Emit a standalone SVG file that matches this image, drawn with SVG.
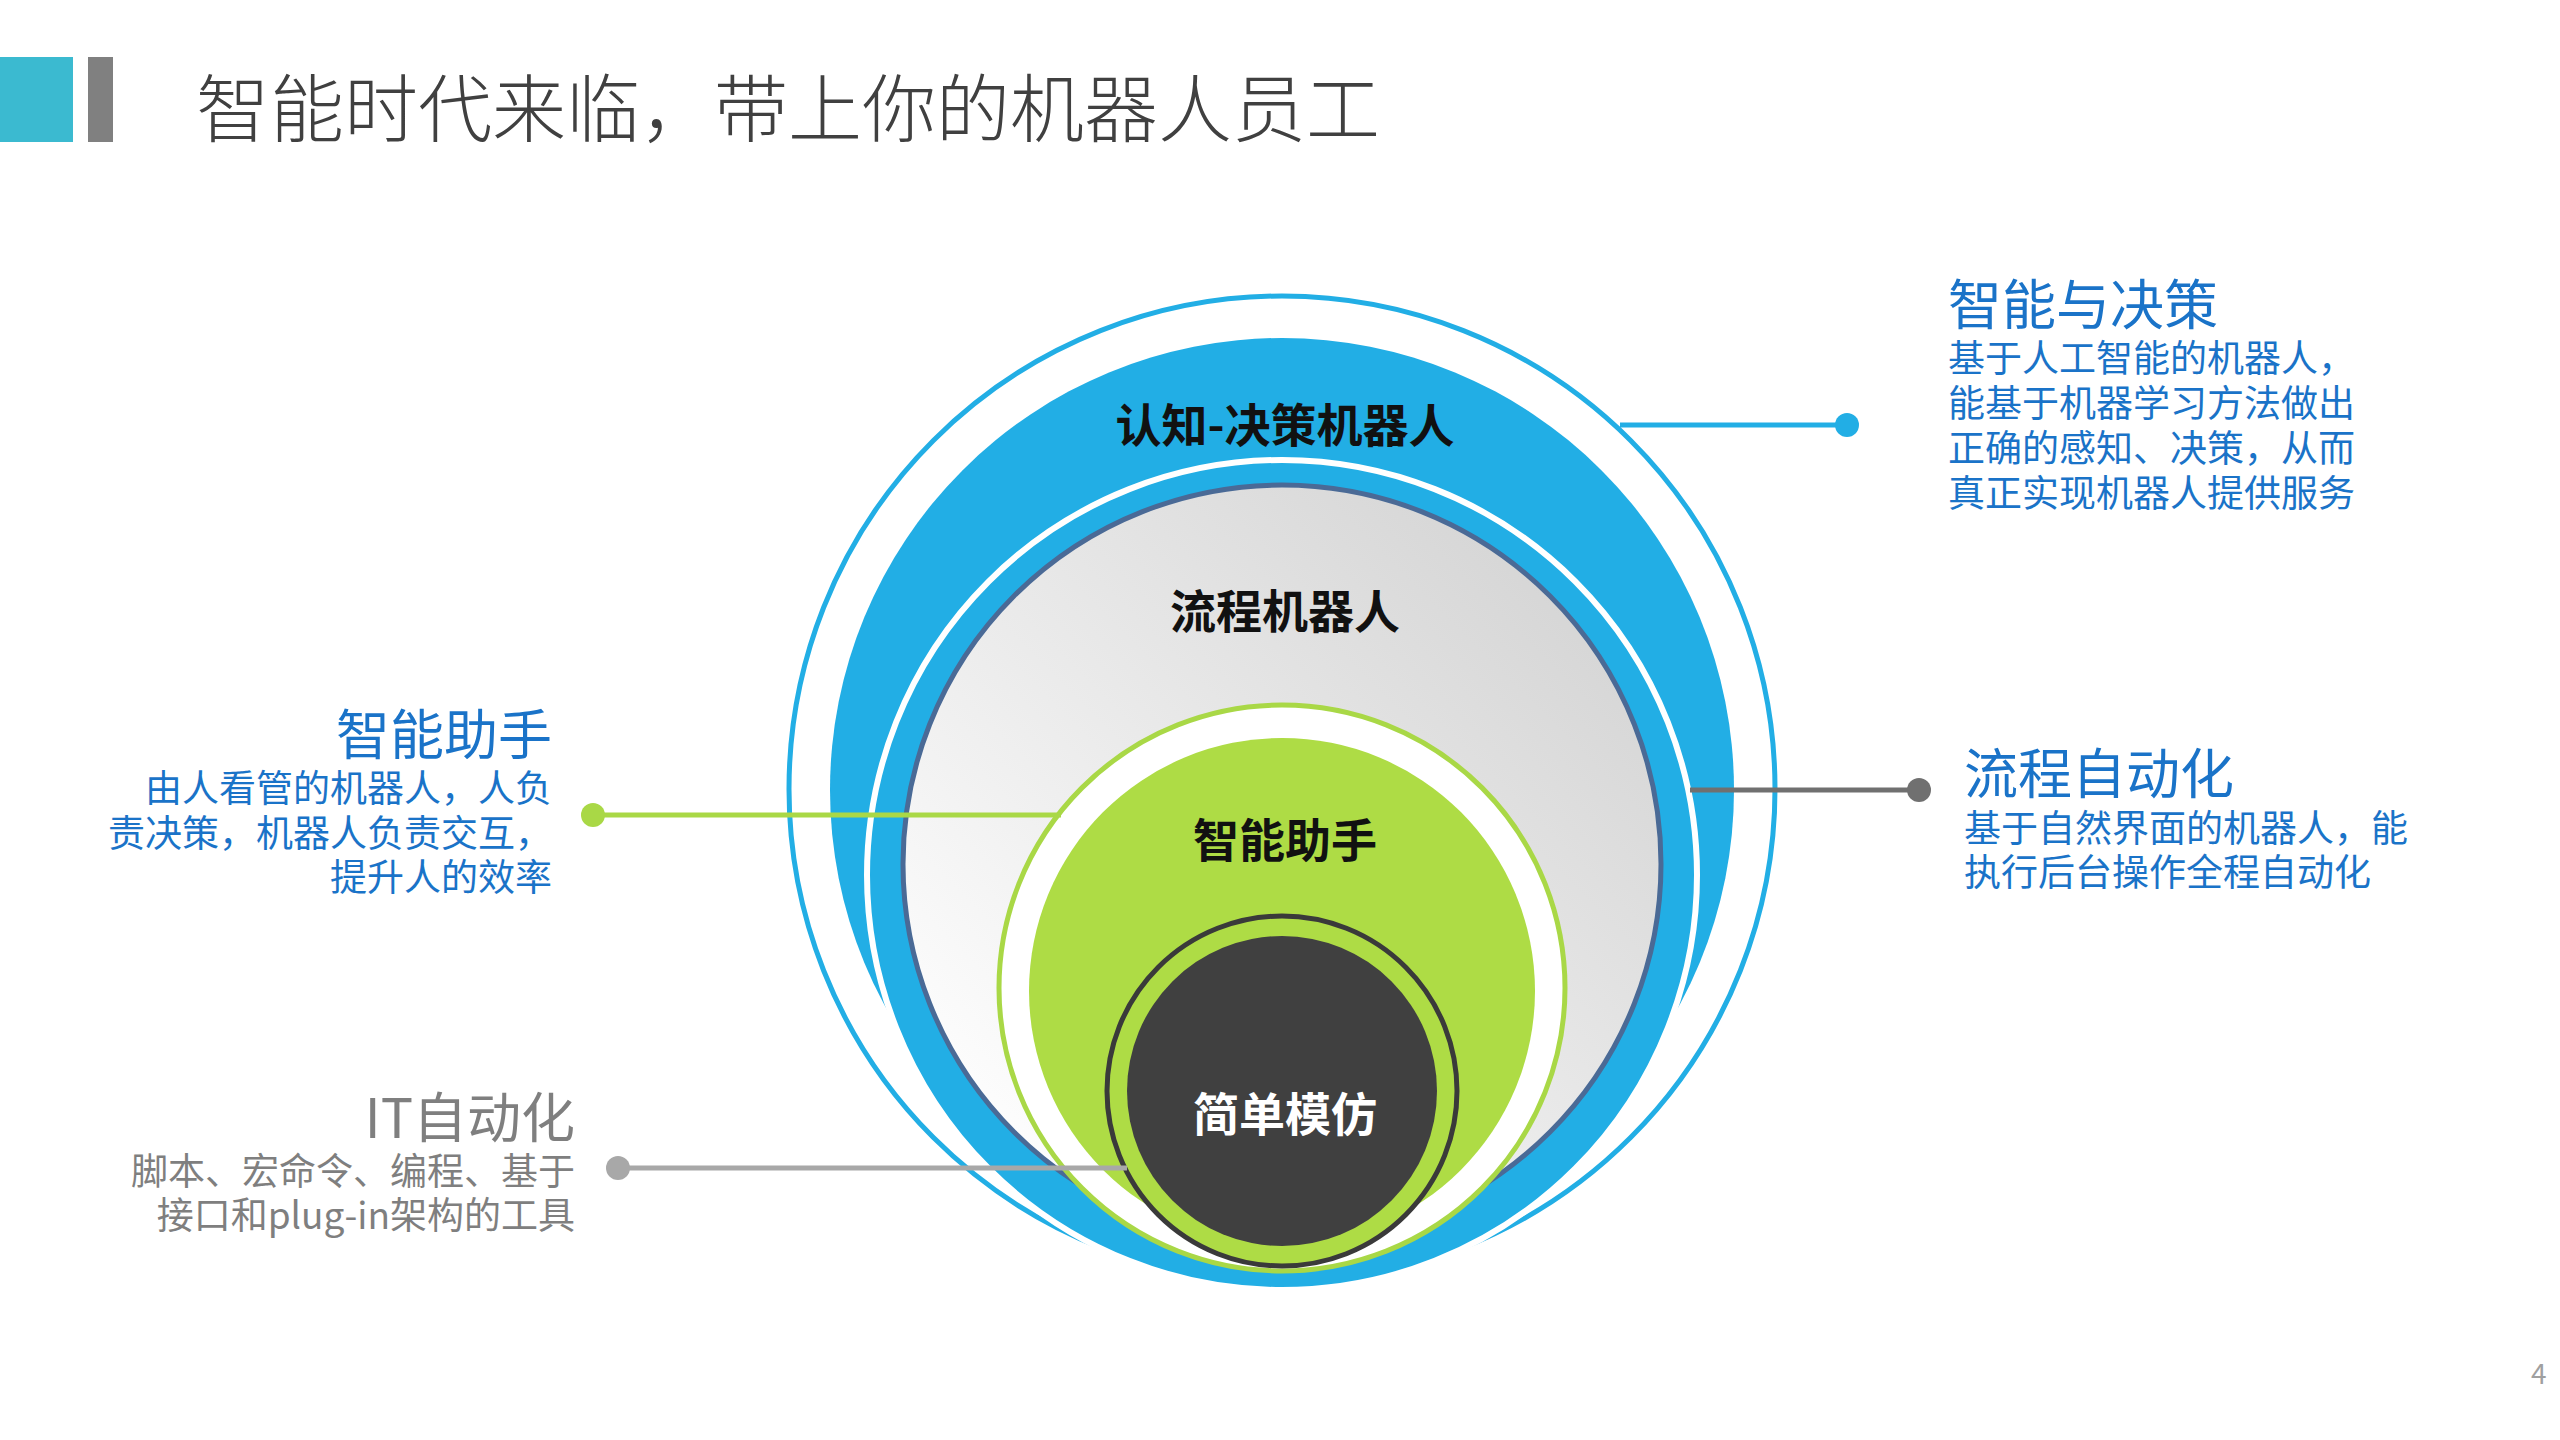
<svg xmlns="http://www.w3.org/2000/svg" width="2560" height="1440" viewBox="0 0 2560 1440">
<style>
text{font-family:"Noto Sans CJK SC","Noto Sans",sans-serif}
.h{font-size:46px;font-weight:700;text-anchor:middle;fill:#111}
.bt{fill:#1a73c8;font-size:54px}
.b{fill:#1a73c8;font-size:37px}
.gt{fill:#7f7f7f;font-size:54px}
.g{fill:#7f7f7f;font-size:37px}
.r{text-anchor:end}
</style>
<defs>
<linearGradient id="gg" x1="0.1" y1="0.9" x2="0.9" y2="0.1">
<stop offset="0" stop-color="#ffffff"/><stop offset="1" stop-color="#d4d4d4"/>
</linearGradient>
</defs>
<rect width="2560" height="1440" fill="#fff"/>
<rect x="0" y="57" width="73" height="85" fill="#3bbad0"/>
<rect x="88" y="57" width="25" height="85" fill="#808080"/>
<text x="196" y="136" font-size="74" fill="#404040" font-weight="300">智能时代来临，带上你的机器人员工</text>

<g id="cognitive">
<circle cx="1282" cy="789" r="493" fill="none" stroke="#22aee5" stroke-width="5"/>
<circle cx="1282" cy="790" r="452" fill="#22aee5"/>
<text class="h" x="1285" y="442">认知-决策机器人</text>
</g>
<g id="process">
<circle cx="1282" cy="875" r="415" fill="#22aee5" stroke="#fff" stroke-width="6"/>
<circle cx="1282" cy="864" r="379" fill="url(#gg)" stroke="#4a6a96" stroke-width="5"/>
<text class="h" x="1285" y="628">流程机器人</text>
</g>
<g id="assistant">
<circle cx="1282" cy="988" r="283" fill="#fff" stroke="#a9d846" stroke-width="5"/>
<circle cx="1282" cy="991" r="253" fill="#aedc45"/>
<text class="h" x="1285" y="857">智能助手</text>
</g>
<g id="imitation">
<circle cx="1282" cy="1091" r="175" fill="#aedc45" stroke="#3a3a3a" stroke-width="5"/>
<circle cx="1282" cy="1091" r="155" fill="#404040"/>
<text class="h" x="1285" y="1131" style="fill:#fff">简单模仿</text>
</g>

<g id="connectors">
<line x1="1620" y1="425" x2="1847" y2="425" stroke="#22aee5" stroke-width="5"/>
<circle cx="1847" cy="425" r="12" fill="#22aee5"/>
<line x1="1690" y1="790" x2="1919" y2="790" stroke="#707070" stroke-width="5"/>
<circle cx="1919" cy="790" r="12" fill="#707070"/>
<line x1="591" y1="815" x2="1061" y2="815" stroke="#a9d846" stroke-width="5"/>
<circle cx="593" cy="815" r="12" fill="#a9d846"/>
<line x1="616" y1="1168" x2="1127" y2="1168" stroke="#a8a8a8" stroke-width="5"/>
<circle cx="618" cy="1168" r="12" fill="#a8a8a8"/>
</g>

<g id="label-decision">
<text class="bt" x="1948" y="325">智能与决策</text>
<text class="b" x="1948" y="372">基于人工智能的机器人，</text>
<text class="b" x="1948" y="417">能基于机器学习方法做出</text>
<text class="b" x="1948" y="462">正确的感知、决策，从而</text>
<text class="b" x="1948" y="507">真正实现机器人提供服务</text>
</g>
<g id="label-process">
<text class="bt" x="1964" y="794">流程自动化</text>
<text class="b" x="1964" y="842">基于自然界面的机器人，能</text>
<text class="b" x="1964" y="886">执行后台操作全程自动化</text>
</g>
<g id="label-assistant">
<text class="bt r" x="552" y="755">智能助手</text>
<text class="b r" x="552" y="802">由人看管的机器人，人负</text>
<text class="b r" x="552" y="847">责决策，机器人负责交互，</text>
<text class="b r" x="552" y="891">提升人的效率</text>
</g>
<g id="label-it">
<text class="gt r" x="575" y="1138">IT自动化</text>
<text class="g r" x="575" y="1185">脚本、宏命令、编程、基于</text>
<text class="g r" x="575" y="1229">接口和plug-in架构的工具</text>
</g>
<text x="2531" y="1384" font-size="28" fill="#a0a0a0">4</text>
</svg>
